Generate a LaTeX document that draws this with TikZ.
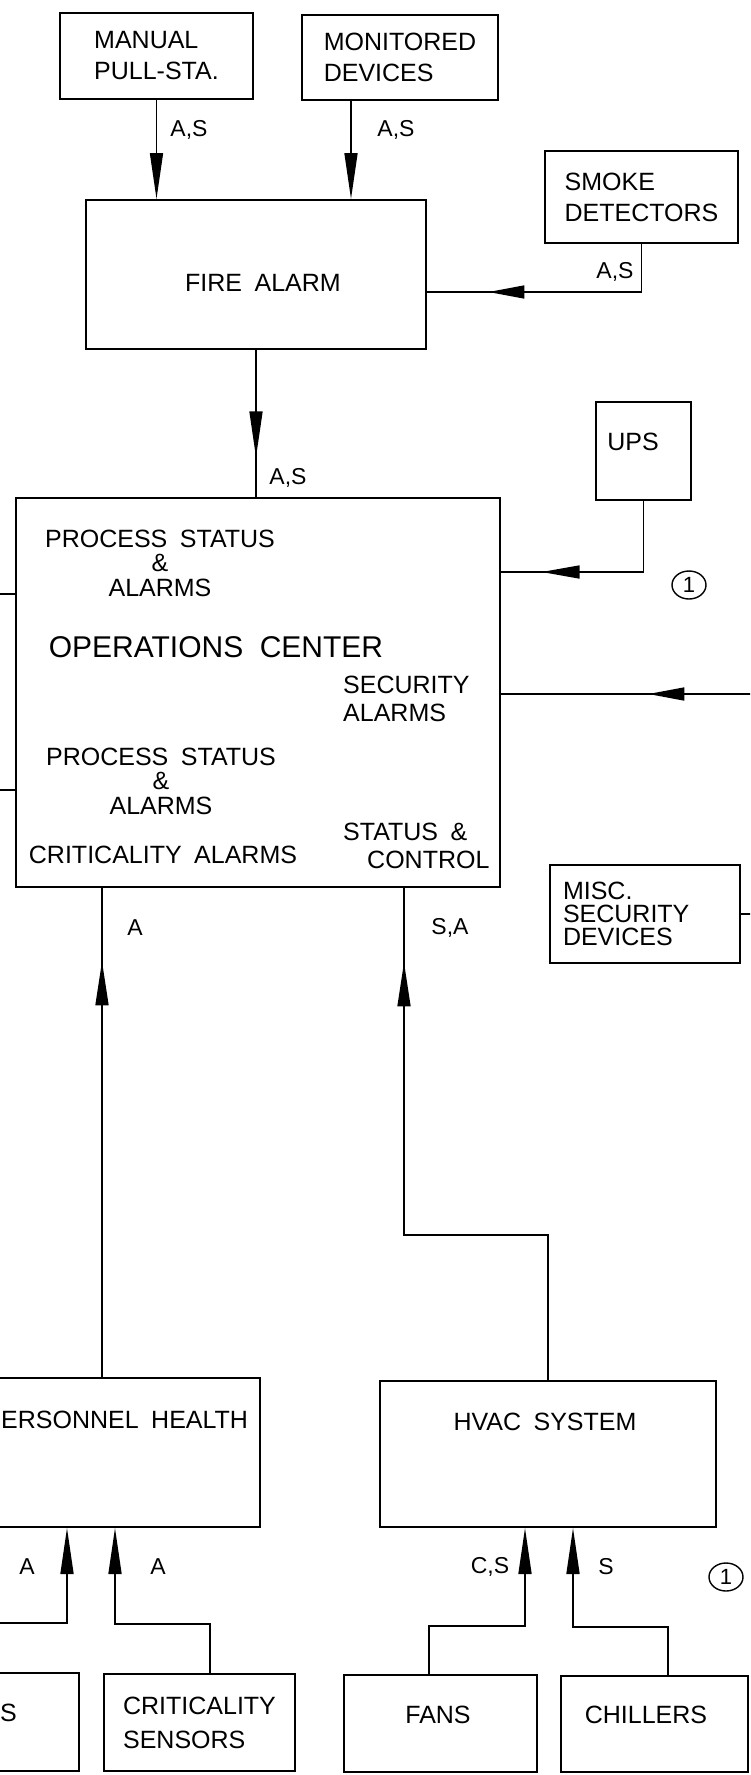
\documentclass[tikz,border=0pt]{standalone}
\usepackage{fontspec}
\setmainfont{Liberation Sans}
\usetikzlibrary{arrows.meta,decorations.markings,shapes.geometric}

\begin{document}
\begin{tikzpicture}[x=1pt,y=1pt,yscale=-1,
  box/.style={draw, line width=2pt, inner sep=2pt, align=left, font={\fontsize{25}{31}\selectfont\spaceskip=0.5em\relax}},
  txt/.style={inner sep=0pt, align=center, font={\fontsize{25}{24.5}\selectfont\spaceskip=0.5em\relax}},
  tag/.style={inner sep=0pt, font=\fontsize{23}{23}\selectfont},
  wire/.style={line width=1.6pt},
  tipend/.style={-{Triangle[length=46pt,width=13pt]}},
  midtip/.style 2 args={postaction={decorate}, decoration={markings, mark=at position #1 with {\arrow{Triangle[length=#2,width=13pt]}}}},
  ring/.style={draw, ellipse, line width=1.4pt, minimum width=34pt, minimum height=28pt, inner sep=0pt, font=\fontsize{22}{22}\selectfont}]
\useasboundingbox (0,0) rectangle (750,1775);
\clip (0,0) rectangle (750,1775);

% boxes
\node[box, minimum width=193pt, minimum height=86pt] (manual) at (156.5,56) {MANUAL\\PULL-STA.};
\node[box, minimum width=196pt, minimum height=85pt] (monitor) at (400,57.5) {MONITORED\\DEVICES};
\node[box, minimum width=340pt, minimum height=149pt] (fire) at (256,274.5) {};
\node[box, minimum width=193pt, minimum height=92pt] (smoke) at (641.5,197) {SMOKE\\DETECTORS};
\node[box, minimum width=95pt, minimum height=98pt] (ups) at (643.5,451) {};
\node[box, minimum width=484pt, minimum height=389pt] (ops) at (258,692.5) {};
\node[box, minimum width=190pt, minimum height=98pt, text width=164pt, inner xsep=13pt, font=\fontsize{25}{23}\selectfont] (misc) at (645,914) {MISC.\\SECURITY\\DEVICES};
\node[box, minimum width=296pt, minimum height=149pt] (person) at (112,1452.5) {};
\node[box, minimum width=336pt, minimum height=146pt] (hvac) at (548,1454) {};
\node[box, minimum width=240pt, minimum height=98pt] (lowleft) at (-41,1722) {};
\node[box, minimum width=191pt, minimum height=97pt, font=\fontsize{25}{34}\selectfont] (crit) at (199.5,1722.5) {CRITICALITY\\SENSORS};
\node[box, minimum width=193pt, minimum height=97pt] (fans) at (440.5,1723.5) {};
\node[box, minimum width=187pt, minimum height=96pt] (chill) at (654.5,1724) {};

% texts inside the boxes
\node[txt] (firetxt) at (263,283) {FIRE ALARM};
\node[txt] (upstxt) at (633,442) {UPS};
\node[txt] (pstat1) at (160,563) {PROCESS STATUS\\\&\\ALARMS};
\node[txt, font={\fontsize{30}{30}\selectfont\spaceskip=0.55em\relax}] (opsname) at (216,647) {OPERATIONS CENTER};
\node[txt, align=left, anchor=west, font=\fontsize{25}{28}\selectfont] (secal) at (343,699) {SECURITY\\ALARMS};
\node[txt] (pstat2) at (161,781) {PROCESS STATUS\\\&\\ALARMS};
\node[txt] (crital) at (163,855) {CRITICALITY ALARMS};
\node[txt, align=left, anchor=west, font={\fontsize{25}{28}\selectfont\spaceskip=0.5em\relax}] (statctl) at (343,846) {STATUS \&\\\hspace*{24pt}CONTROL};
\node[txt, anchor=west] (perstxt) at (1,1420) {ERSONNEL HEALTH};
\node[txt] (hvactxt) at (545,1422) {HVAC SYSTEM};
\node[txt, anchor=west] (lowtxt) at (0,1713) {S};
\node[txt] (fanstxt) at (438,1715) {FANS};
\node[txt] (chilltxt) at (646,1715) {CHILLERS};

% signal tags
\node[tag] (t1) at (189,130) {A,S};
\node[tag] (t2) at (396,130) {A,S};
\node[tag] (t3) at (615,272) {A,S};
\node[tag] (t4) at (288,478) {A,S};
\node[tag] (t5) at (135,928) {A};
\node[tag] (t6) at (450,928) {S,A};
\node[tag] (t7) at (27,1567) {A};
\node[tag] (t8) at (158,1567) {A};
\node[tag] (t9) at (490,1567) {C,S};
\node[tag] (t10) at (606,1567) {S};
\node[ring] (note1) at (689,585) {1};
\node[ring] (note2) at (726,1577) {1};

% bends and free ends
\coordinate (monx) at (351,0);
\coordinate (smky) at (0,292);
\coordinate (upsy) at (0,572);
\coordinate (secin) at (755,694);
\coordinate (opsw1) at (-5,594);
\coordinate (opsw2) at (-5,790);
\coordinate (miscout) at (755,914);
\coordinate (ax) at (102,0);
\coordinate (sax) at (404,0);
\coordinate (say) at (0,1235);
\coordinate (pa) at (67,1623);
\coordinate (pb) at (115,1624);
\coordinate (critx) at (210,0);
\coordinate (fanx) at (429,0);
\coordinate (ha) at (525,1626);
\coordinate (hb) at (573,1627);
\coordinate (chx) at (668,0);

% connectors
\draw[wire, tipend] (manual.south) -- (manual.south |- fire.north);
\draw[wire, tipend] (monitor.south -| monx) -- (fire.north -| monx);
\draw[wire, midtip={0.766}{36pt}] (smoke.south) |- (fire.east |- smky);
\draw[wire, midtip={0.73}{46pt}] (fire.south) -- (fire.south |- ops.north);
\draw[wire, midtip={0.81}{38pt}] (ups.south) |- (ops.east |- upsy);
\draw[wire, midtip={0.42}{36pt}] (secin) -- (ops.east |- secin);
\draw[wire] (opsw1) -- (ops.west |- opsw1);
\draw[wire] (opsw2) -- (ops.west |- opsw2);
\draw[wire] (misc.east) -- (miscout);
\draw[wire, midtip={0.85}{44pt}] (person.north -| ax) -- (ops.south -| ax);
\draw[wire, midtip={0.883}{44pt}] (hvac.north) |- (sax |- say) -- (ops.south -| sax);
\draw[wire, tipend] (lowleft.north) |- (pa) -- (person.south -| pa);
\draw[wire, tipend] (crit.north -| critx) |- (pb) -- (person.south -| pb);
\draw[wire, tipend] (fans.north -| fanx) |- (ha) -- (hvac.south -| ha);
\draw[wire, tipend] (chill.north -| chx) |- (hb) -- (hvac.south -| hb);

\end{tikzpicture}
\end{document}
